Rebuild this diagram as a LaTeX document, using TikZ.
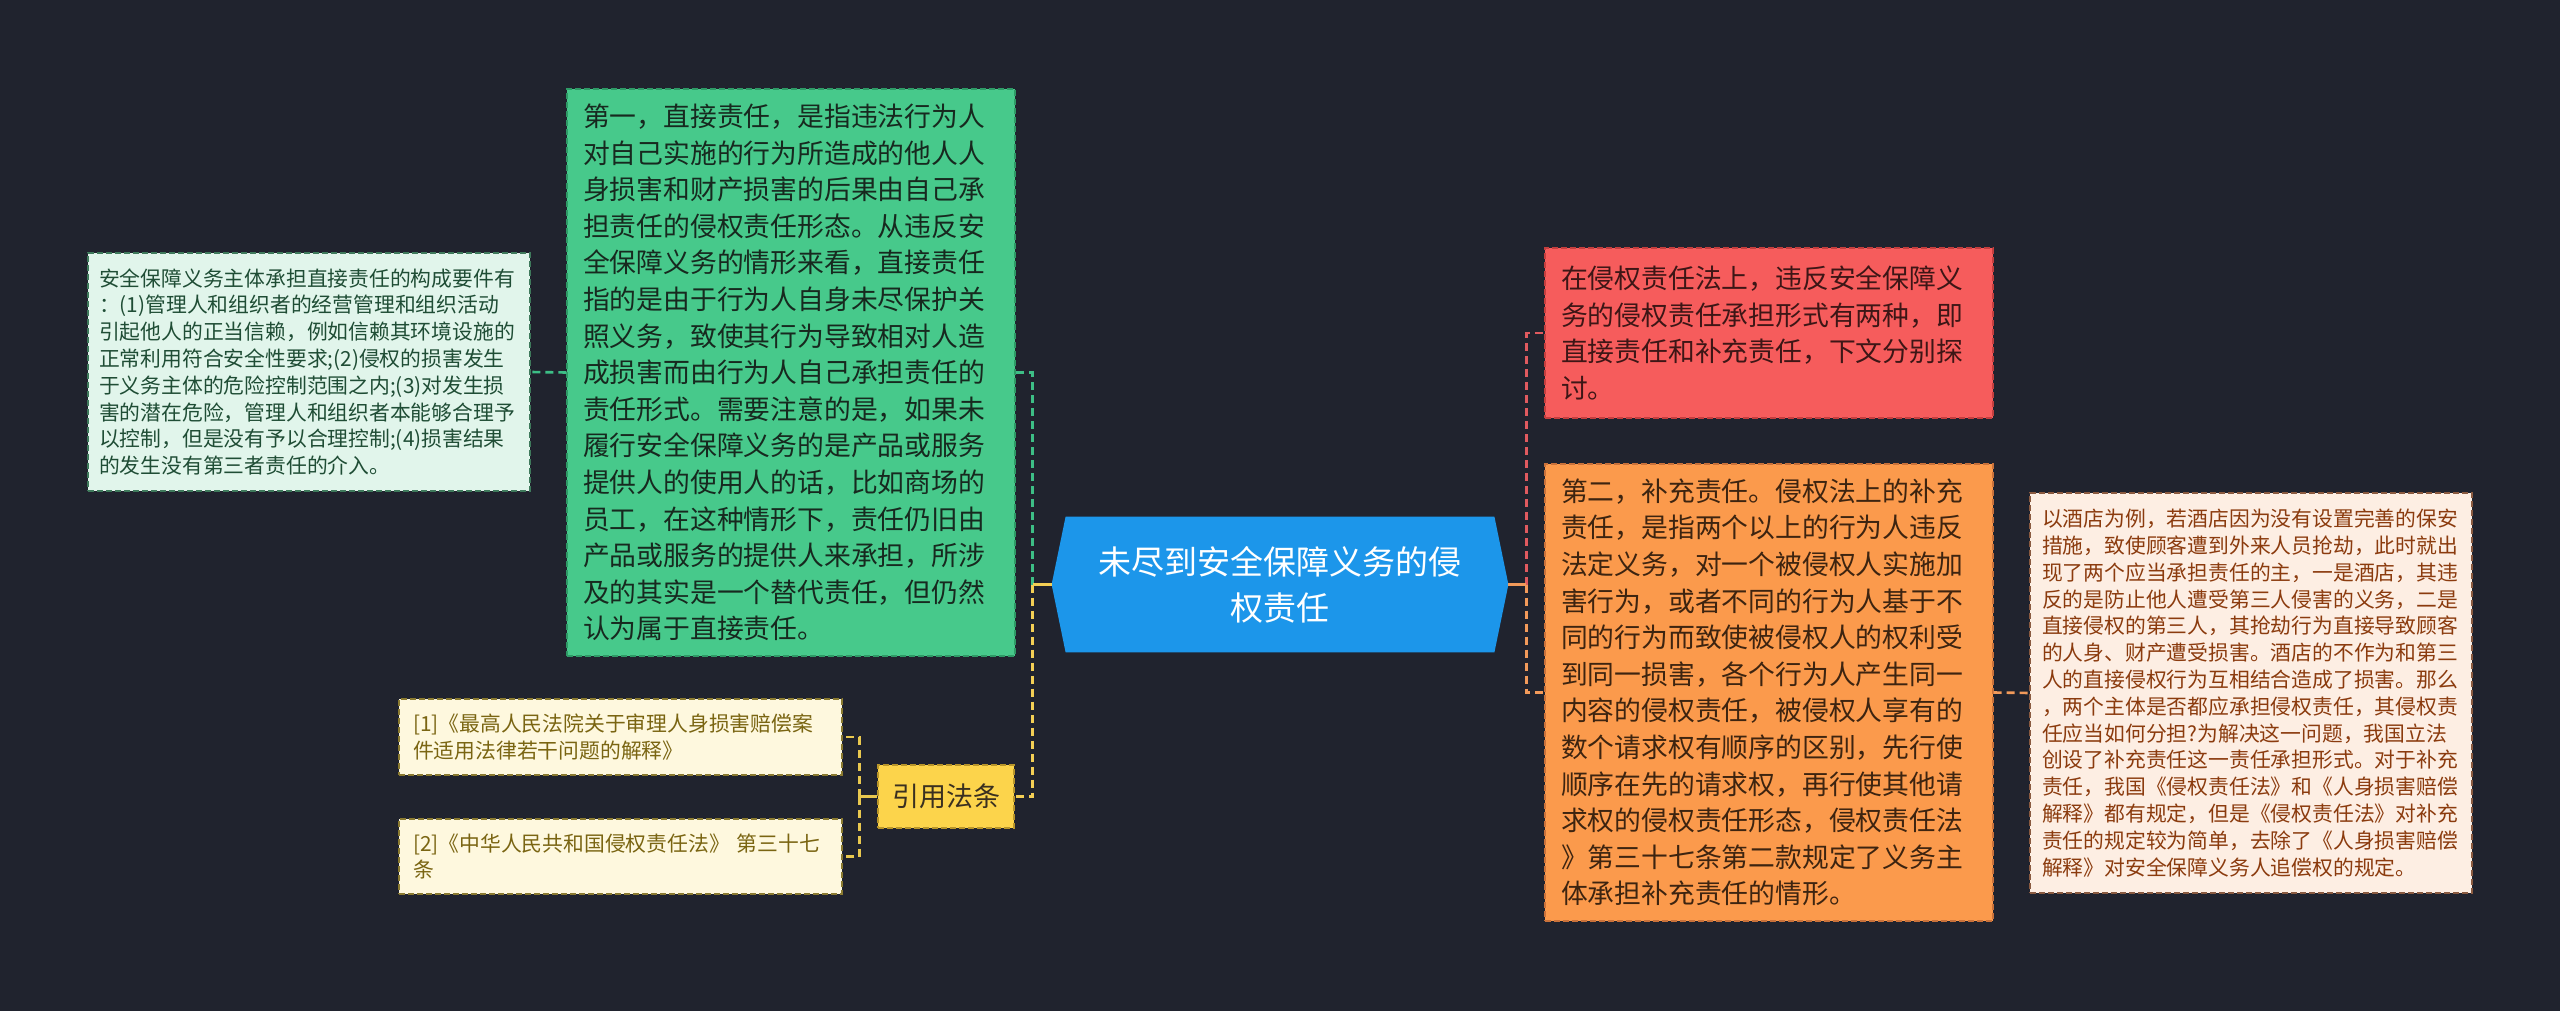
\documentclass[tikz,border=0pt]{standalone}
\usepackage{fontspec}
\setmainfont{Noto Sans CJK SC}
\usepackage{xcolor}
\usepackage{tikz}
\usetikzlibrary{backgrounds}

\definecolor{canvas}{HTML}{20232E}
\definecolor{rootblue}{HTML}{1C96EA}
\definecolor{greenfill}{HTML}{47C98B}
\definecolor{greenline}{HTML}{2E9A66}
\definecolor{greentext}{HTML}{17291F}
\definecolor{greenlink}{HTML}{3DBE86}
\definecolor{mintfill}{HTML}{E1F5EB}
\definecolor{mintline}{HTML}{3F7A5C}
\definecolor{minttext}{HTML}{1F4D35}
\definecolor{citefill}{HTML}{FCD44B}
\definecolor{citeline}{HTML}{B8952A}
\definecolor{citetext}{HTML}{3A3020}
\definecolor{citelink}{HTML}{E9C84F}
\definecolor{yellowlink}{HTML}{F4CF55}
\definecolor{reffill}{HTML}{FEF8DE}
\definecolor{refline}{HTML}{8A7A30}
\definecolor{reftext}{HTML}{7A6512}
\definecolor{redfill}{HTML}{F65C5C}
\definecolor{redline}{HTML}{C43E3E}
\definecolor{redtext}{HTML}{3D1616}
\definecolor{redlink}{HTML}{E05A5F}
\definecolor{orangefill}{HTML}{FB9A4C}
\definecolor{orangeline}{HTML}{C9713A}
\definecolor{orangetext}{HTML}{3D2410}
\definecolor{orangelink}{HTML}{F29A5A}
\definecolor{peachfill}{HTML}{FDEEE3}
\definecolor{peachline}{HTML}{8A5A40}
\definecolor{peachtext}{HTML}{8B3B0E}

\newcommand\txtroot{\fontsize{16.5pt}{23pt}\selectfont}
\newcommand\txtmain{\fontsize{13.4pt}{18.3pt}\selectfont}
\newcommand\txtsmall{\fontsize{10.4pt}{13.4pt}\selectfont}

\begin{document}
\begin{tikzpicture}[x=0.5pt,y=-0.5pt,
    box/.style={rectangle, draw, dash pattern=on 3pt off 1.5pt, line width=0.7pt,
      align=left, inner ysep=0pt},
    mainbox/.style={box, font=\txtmain, text width=208pt, inner xsep=8pt},
    smallbox/.style={box, font=\txtsmall},
    link/.style={line width=1.3pt, dash pattern=on 4pt off 2.5pt},
    stub/.style={line width=1.3pt}]

      % Canvas
      \begin{scope}[on background layer]
          \fill[canvas] (0,0) rectangle (2560,1011);
      \end{scope}
      \useasboundingbox (0,0) rectangle (2560,1011);

      % Root
      \node[font=\txtroot, text=white, align=center, inner sep=0pt,
            minimum width=228pt, minimum height=67.5pt] (root) at (1280,584.5)
          {未尽到安全保障义务的侵\\权责任};
      \begin{scope}[on background layer]
          \fill[rootblue] ([xshift=7pt]root.north west) -- ([xshift=-7pt]root.north east)
              -- (root.east) -- ([xshift=-7pt]root.south east)
              -- ([xshift=7pt]root.south west) -- (root.west) -- cycle;
      \end{scope}

      % Left: direct liability
      \node[mainbox, fill=greenfill, draw=greenline, text=greentext,
            minimum height=283.5pt] (direct) at (791,372.5)
          {第一，直接责任，是指违法行为人\\
           对自己实施的行为所造成的他人人\\
           身损害和财产损害的后果由自己承\\
           担责任的侵权责任形态。从违反安\\
           全保障义务的情形来看，直接责任\\
           指的是由于行为人自身未尽保护关\\
           照义务，致使其行为导致相对人造\\
           成损害而由行为人自己承担责任的\\
           责任形式。需要注意的是，如果未\\
           履行安全保障义务的是产品或服务\\
           提供人的使用人的话，比如商场的\\
           员工，在这种情形下，责任仍旧由\\
           产品或服务的提供人来承担，所涉\\
           及的其实是一个替代责任，但仍然\\
           认为属于直接责任。};

      \node[smallbox, fill=mintfill, draw=mintline, text=minttext,
            text width=210pt, inner xsep=5.5pt, minimum height=119pt] (elements) at (309,372)
          {安全保障义务主体承担直接责任的构成要件有\\
           ：(1)管理人和组织者的经营管理和组织活动\\
           引起他人的正当信赖，例如信赖其环境设施的\\
           正常利用符合安全性要求;(2)侵权的损害发生\\
           于义务主体的危险控制范围之内;(3)对发生损\\
           害的潜在危险，管理人和组织者本能够合理予\\
           以控制，但是没有予以合理控制;(4)损害结果\\
           的发生没有第三者责任的介入。};

      % Left: cited laws
      \node[box, font=\fontsize{13.5pt}{16pt}\selectfont, fill=citefill, draw=citeline,
            text=citetext, align=center, inner xsep=0pt,
            minimum width=68pt, minimum height=31.5pt] (cite) at (946,796.5) {引用法条};

      \node[smallbox, fill=reffill, draw=refline, text=reftext,
            text width=207.5pt, inner xsep=7pt, minimum height=38pt] (ref1) at (620.5,737)
          {[1]《最高人民法院关于审理人身损害赔偿案\\
           件适用法律若干问题的解释》};
      \node[smallbox, fill=reffill, draw=refline, text=reftext,
            text width=207.5pt, inner xsep=7pt, minimum height=37.5pt] (ref2) at (620.5,856.5)
          {[2]《中华人民共和国侵权责任法》 第三十七\\
           条};

      % Right: two forms
      \node[mainbox, fill=redfill, draw=redline, text=redtext,
            minimum height=85pt] (forms) at (1769,333)
          {在侵权责任法上，违反安全保障义\\
           务的侵权责任承担形式有两种，即\\
           直接责任和补充责任，下文分别探\\
           讨。};

      % Right: supplementary liability
      \node[mainbox, fill=orangefill, draw=orangeline, text=orangetext,
            minimum height=228.5pt] (supp) at (1769,692.5)
          {第二，补充责任。侵权法上的补充\\
           责任，是指两个以上的行为人违反\\
           法定义务，对一个被侵权人实施加\\
           害行为，或者不同的行为人基于不\\
           同的行为而致使被侵权人的权利受\\
           到同一损害，各个行为人产生同一\\
           内容的侵权责任，被侵权人享有的\\
           数个请求权有顺序的区别，先行使\\
           顺序在先的请求权，再行使其他请\\
           求权的侵权责任形态，侵权责任法\\
           》第三十七条第二款规定了义务主\\
           体承担补充责任的情形。};

      \node[smallbox, fill=peachfill, draw=peachline, text=peachtext,
            text width=209pt, inner xsep=6pt, minimum height=200pt] (hotel) at (2251,693)
          {以酒店为例，若酒店因为没有设置完善的保安\\
           措施，致使顾客遭到外来人员抢劫，此时就出\\
           现了两个应当承担责任的主，一是酒店，其违\\
           反的是防止他人遭受第三人侵害的义务，二是\\
           直接侵权的第三人，其抢劫行为直接导致顾客\\
           的人身、财产遭受损害。酒店的不作为和第三\\
           人的直接侵权行为互相结合造成了损害。那么\\
           ，两个主体是否都应承担侵权责任，其侵权责\\
           任应当如何分担?为解决这一问题，我国立法\\
           创设了补充责任这一责任承担形式。对于补充\\
           责任，我国《侵权责任法》和《人身损害赔偿\\
           解释》都有规定，但是《侵权责任法》对补充\\
           责任的规定较为简单，去除了《人身损害赔偿\\
           解释》对安全保障义务人追偿权的规定。};

      % Connectors, left side
      \coordinate (lj) at ([xshift=-9.5pt]root.west);
      \draw[link, greenlink] (lj) |- (direct.east);
      \draw[link, yellowlink] (lj) |- (cite.east);
      \draw[stub, yellowlink] (root.west) -- (lj);
      \draw[link, greenlink] (direct.west) -- (elements.east);

      \coordinate (cj) at ([xshift=-9pt]cite.west);
      \draw[link, citelink] (cj) |- (ref1.east);
      \draw[link, citelink] (cj) |- (ref2.east);
      \draw[stub, citelink] (cite.west) -- (cj);

      % Connectors, right side
      \coordinate (rj) at ([xshift=9pt]root.east);
      \draw[link, redlink] (rj) |- (forms.west);
      \draw[link, orangelink] (rj) |- (supp.west);
      \draw[stub, orangelink] (root.east) -- (rj);
      \draw[link, orangelink] (supp.east) -- (hotel.west);

  \end{tikzpicture}
\end{document}
